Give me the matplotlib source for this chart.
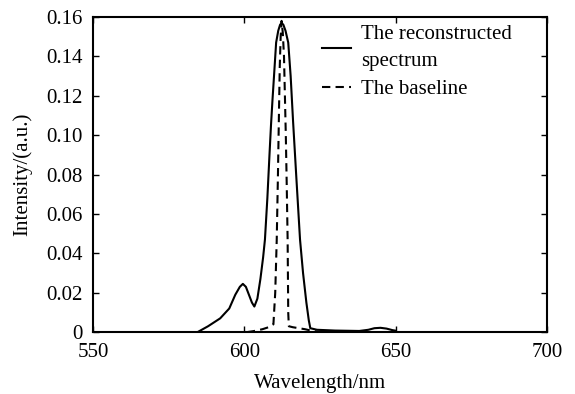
import numpy as np
import matplotlib
matplotlib.use("Agg")
import matplotlib.pyplot as plt
from matplotlib.ticker import FuncFormatter

plt.rcParams["font.family"] = ["Liberation Serif", "DejaVu Serif"]

# reconstructed spectrum (solid)
wl_rec = [584.5, 588, 592, 595, 597, 598.5, 599.5, 600.5, 601.5, 602.5,
          603.3, 604.3, 605.3, 606.2, 606.8, 607.6, 608.3, 608.8, 609.3, 609.8,
          610.5, 611.2, 611.8, 612.3, 612.9, 613.6, 614.5, 615.3, 616.1, 617.2,
          618.4, 619.4, 620.5, 621.3, 621.8, 624, 630, 638, 641, 643,
          645, 647, 649, 649.8]
int_rec = [0.0, 0.003, 0.007, 0.012, 0.019, 0.023, 0.0245, 0.023, 0.019, 0.015,
           0.013, 0.017, 0.027, 0.038, 0.047, 0.068, 0.090, 0.105, 0.118, 0.130,
           0.147, 0.153, 0.156, 0.157, 0.156, 0.153, 0.147, 0.130, 0.107, 0.078,
           0.047, 0.030, 0.015, 0.006, 0.002, 0.0012, 0.0008, 0.0006, 0.0012, 0.0020,
           0.0022, 0.0018, 0.0010, 0.0008]

# baseline (dashed)
wl_base = [600.8, 603, 606, 608, 609.6, 610.2, 610.7, 611.1, 611.4, 611.7,
           612.0, 612.3, 612.7, 613.1, 613.4, 613.7, 614.0, 614.3, 614.5, 614.7,
           616, 618, 620, 622, 624, 626]
int_base = [0.0, 0.0005, 0.0015, 0.0025, 0.004, 0.020, 0.047, 0.080, 0.108, 0.135,
            0.150, 0.158, 0.152, 0.140, 0.120, 0.100, 0.075, 0.047, 0.010, 0.003,
            0.0025, 0.002, 0.0015, 0.0008, 0.0003, 0.0]

xticks = [550, 600, 650, 700]
yticks = [0, 0.02, 0.04, 0.06, 0.08, 0.10, 0.12, 0.14, 0.16]

fig = plt.figure(figsize=(5.75, 3.94), dpi=100)
ax = fig.add_axes([0.162, 0.157, 0.789, 0.800])

ax.plot(wl_rec, int_rec, color="black", lw=1.5,
        label="The reconstructed\nspectrum")
ax.plot(wl_base, int_base, color="black", lw=1.5, dashes=(4, 2.5),
        label="The baseline")

ax.set_xlim(550, 700)
ax.set_ylim(0, 0.16)
ax.set_xticks(xticks)
ax.set_yticks(yticks)
ax.yaxis.set_major_formatter(FuncFormatter(lambda v, p: "0" if v == 0 else f"{v:.2f}"))
ax.tick_params(direction="in", top=True, right=True, length=4, width=1,
               labelsize=15)
ax.tick_params(axis="x", pad=7.5)
ax.tick_params(axis="y", pad=7.5)
for s in ax.spines.values():
    s.set_linewidth(1.5)

ax.set_xlabel("Wavelength/nm", fontsize=15, labelpad=9)
ax.set_ylabel("Intensity/(a.u.)", fontsize=15, labelpad=10)

leg = ax.legend(loc="upper right", frameon=False, fontsize=15, handlelength=1.4,
                handletextpad=0.5, labelspacing=0.4, borderaxespad=0.0,
                bbox_to_anchor=(0.942, 1.0))
for t in leg.get_texts():
    t.set_linespacing(1.55)

fig.savefig("out.png", dpi=100)
